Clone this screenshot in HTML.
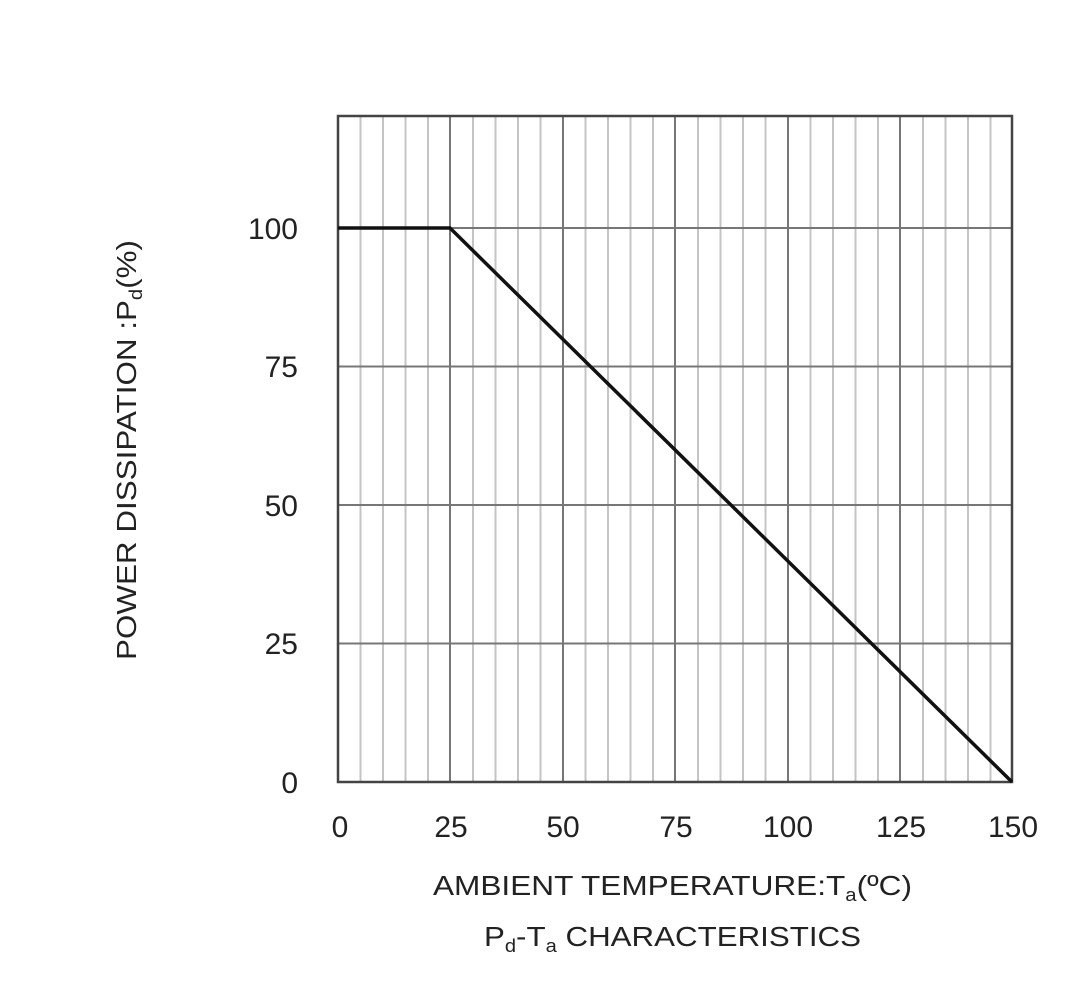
<!DOCTYPE html><html><head><style>body{margin:0;background:#fff}</style></head><body>
<svg width="1080" height="993" xmlns="http://www.w3.org/2000/svg" font-family="Liberation Sans, Arial, sans-serif" fill="#222">
<g stroke="#c4c4c4" stroke-width="2">
<line x1="360.5" y1="116" x2="360.5" y2="782"/><line x1="383" y1="116" x2="383" y2="782"/><line x1="405.5" y1="116" x2="405.5" y2="782"/><line x1="428" y1="116" x2="428" y2="782"/>
<line x1="473" y1="116" x2="473" y2="782"/><line x1="495.5" y1="116" x2="495.5" y2="782"/><line x1="518" y1="116" x2="518" y2="782"/><line x1="540.5" y1="116" x2="540.5" y2="782"/>
<line x1="585.5" y1="116" x2="585.5" y2="782"/><line x1="608" y1="116" x2="608" y2="782"/><line x1="630.5" y1="116" x2="630.5" y2="782"/><line x1="653" y1="116" x2="653" y2="782"/>
<line x1="698" y1="116" x2="698" y2="782"/><line x1="720.5" y1="116" x2="720.5" y2="782"/><line x1="743" y1="116" x2="743" y2="782"/><line x1="765.5" y1="116" x2="765.5" y2="782"/>
<line x1="810.5" y1="116" x2="810.5" y2="782"/><line x1="833" y1="116" x2="833" y2="782"/><line x1="855.5" y1="116" x2="855.5" y2="782"/><line x1="878" y1="116" x2="878" y2="782"/>
<line x1="923" y1="116" x2="923" y2="782"/><line x1="945.5" y1="116" x2="945.5" y2="782"/><line x1="968" y1="116" x2="968" y2="782"/><line x1="990.5" y1="116" x2="990.5" y2="782"/>
</g>
<g stroke="#777" stroke-width="2">
<line x1="450" y1="116" x2="450" y2="782"/><line x1="563" y1="116" x2="563" y2="782"/><line x1="675" y1="116" x2="675" y2="782"/><line x1="788" y1="116" x2="788" y2="782"/><line x1="900" y1="116" x2="900" y2="782"/>
<line x1="338" y1="228" x2="1012" y2="228"/><line x1="338" y1="366.5" x2="1012" y2="366.5"/><line x1="338" y1="505" x2="1012" y2="505"/><line x1="338" y1="643.5" x2="1012" y2="643.5"/>
</g>
<rect x="338" y="116" width="674" height="666" fill="none" stroke="#444" stroke-width="2.5"/>
<polyline points="338,228 450,228 1012,782" fill="none" stroke="#111" stroke-width="3.5"/>
<g font-size="30" text-anchor="end">
<text x="298" y="239">100</text><text x="298" y="377">75</text><text x="298" y="516">50</text><text x="298" y="654">25</text><text x="298" y="793">0</text>
</g>
<g font-size="30" text-anchor="middle">
<text x="340" y="837">0</text><text x="451" y="837">25</text><text x="563" y="837">50</text><text x="676" y="837">75</text><text x="788" y="837">100</text><text x="901" y="837">125</text><text x="1013" y="837">150</text>
</g>
<g font-size="28">
<text x="433" y="895" textLength="479" lengthAdjust="spacingAndGlyphs">AMBIENT TEMPERATURE:T<tspan font-size="18" dy="6">a</tspan><tspan dy="-6">(ºC)</tspan></text>
<text x="484" y="946" textLength="377" lengthAdjust="spacingAndGlyphs">P<tspan font-size="18" dy="6">d</tspan><tspan dy="-6">-T</tspan><tspan font-size="18" dy="6">a</tspan><tspan dy="-6"> CHARACTERISTICS</tspan></text>
<text transform="translate(136,660) rotate(-90)" textLength="420" lengthAdjust="spacingAndGlyphs">POWER DISSIPATION :P<tspan font-size="18" dy="6">d</tspan><tspan dy="-6">(%)</tspan></text>
</g>
</svg></body></html>
